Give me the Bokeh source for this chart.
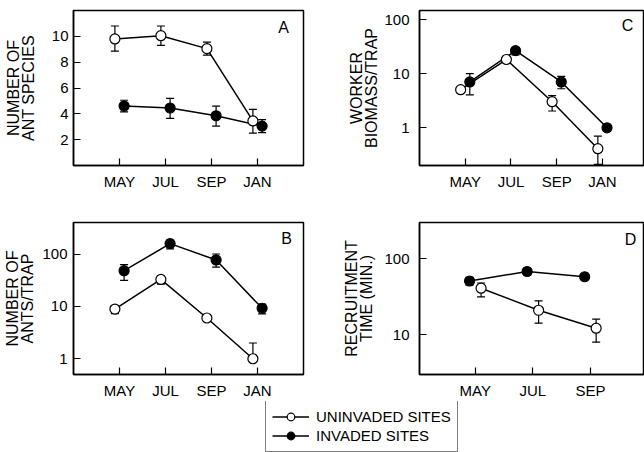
from bokeh.plotting import figure
from bokeh.models import (ColumnDataSource, Whisker, TeeHead, FixedTicker, NumeralTickFormatter,
                          Label, Legend, LegendItem, Range1d)
from bokeh.layouts import column, row
from bokeh.embed import file_html
from bokeh.resources import INLINE

FONT = "Liberation Sans"

# ---------------- data ----------------
months = ["MAY", "JUL", "SEP", "JAN"]
months_d = ["MAY", "JUL", "SEP"]

# Panel A: number of ant species
a_unin = [9.8, 10.05, 9.05, 3.45]
a_unin_lo = [8.85, 9.3, 8.55, 2.5]
a_unin_hi = [10.8, 10.8, 9.55, 4.35]
a_inv = [4.6, 4.45, 3.85, 3.05]
a_inv_lo = [4.15, 3.65, 3.05, 2.55]
a_inv_hi = [5.05, 5.2, 4.6, 3.55]

# Panel C: worker biomass / trap
c_unin = [5.1, 18.5, 3.05, 0.41]
c_unin_lo = [4.6, 16.5, 2.05, 0.21]
c_unin_hi = [5.6, 20.5, 3.95, 0.70]
c_inv = [7.1, 27.0, 7.1, 1.0]
c_inv_lo = [4.1, 22.5, 5.3, 0.93]
c_inv_hi = [10.1, 30.5, 9.0, 1.07]

# Panel B: number of ants / trap
b_unin = [8.9, 32.7, 6.0, 1.0]
b_unin_lo = [7.3, 26.5, 5.6, 1.0]
b_unin_hi = [10.3, 38.0, 6.4, 2.0]
b_inv = [48.0, 158.0, 77.0, 9.2]
b_inv_lo = [31.5, 125.0, 56.0, 7.2]
b_inv_hi = [63.0, 184.0, 100.0, 11.0]

# Panel D: recruitment time (min.)
d_unin = [41.0, 21.0, 12.2]
d_unin_lo = [31.5, 14.2, 8.0]
d_unin_hi = [48.0, 28.0, 16.1]
d_inv = [51.0, 68.0, 58.0]
d_inv_lo = [45.0, 61.0, 55.0]
d_inv_hi = [57.0, 75.0, 61.0]

OFF = 0.1  # horizontal dodge of the two series


def make_fig(w, h, ylog, xr, yr, bl, br, bt, bb):
    p = figure(width=w, height=h, x_range=Range1d(*xr), y_range=Range1d(*yr),
               y_axis_type="log" if ylog else "linear",
               output_backend="svg", toolbar_location=None,
               min_border_left=bl, min_border_right=br,
               min_border_top=bt, min_border_bottom=bb)
    p.grid.visible = False
    p.outline_line_color = "black"
    p.outline_line_width = 1.5
    p.outline_line_alpha = 1
    p.background_fill_color = "white"
    p.border_fill_color = "white"
    for ax in p.axis:
        ax.axis_line_color = "black"
        ax.axis_line_width = 1.5
        ax.major_tick_in = 7
        ax.major_tick_out = 0
        ax.minor_tick_in = 0
        ax.minor_tick_out = 0
        ax.major_tick_line_width = 1.2
        ax.major_tick_line_color = "black"
        ax.major_label_text_font = FONT
        ax.major_label_text_font_size = "15px"
        ax.major_label_text_color = "black"
        ax.axis_label_text_font = FONT
        ax.axis_label_text_font_size = "16px"
        ax.axis_label_text_font_style = "normal"
        ax.axis_label_text_color = "black"
    return p


def set_x(p, labels):
    p.xaxis.ticker = FixedTicker(ticks=[i + 1 for i in range(len(labels))])
    p.xaxis.major_label_overrides = {i + 1: m for i, m in enumerate(labels)}
    p.xaxis.major_label_standoff = 7


def set_y(p, ticks, label, tick_std, lab_std):
    p.yaxis.ticker = FixedTicker(ticks=ticks)
    p.yaxis.formatter = NumeralTickFormatter(format="0")
    p.yaxis.axis_label = label
    p.yaxis.axis_label_text_line_height = 0.9
    p.yaxis.major_label_standoff = tick_std
    p.yaxis.axis_label_standoff = lab_std


def series(p, labels, vals, lo, hi, off):
    xs = [i + 1 + off for i in range(len(labels))]
    src = ColumnDataSource(dict(x=xs, y=vals, lo=lo, hi=hi))
    p.add_layout(Whisker(source=src, base="x", upper="hi", lower="lo",
                         line_color="black", line_width=1.2,
                         upper_head=TeeHead(size=8, line_color="black", line_width=1.2),
                         lower_head=TeeHead(size=8, line_color="black", line_width=1.2)))
    p.line("x", "y", source=src, line_color="black", line_width=1.5)
    return src


def markers(p, src_open, src_fill):
    p.scatter("x", "y", source=src_open, marker="circle", size=10,
              fill_color="white", line_color="black", line_width=1.2)
    p.scatter("x", "y", source=src_fill, marker="circle", size=10,
              fill_color="black", line_color="black", line_width=1.2)


def letter(p, txt, x, y):
    p.add_layout(Label(x=x, y=y, x_units="screen", y_units="screen", text=txt,
                       text_font=FONT, text_font_size="16px", text_color="black",
                       text_align="center", text_baseline="middle"))


# ---------------- Panel A ----------------
pA = make_fig(330, 210, False, (0, 5), (0, 12), 73, 27, 10, 45)
set_x(pA, months)
set_y(pA, [2, 4, 6, 8, 10], "NUMBER OF\nANT SPECIES", 5, 12)
sa1 = series(pA, months, a_unin, a_unin_lo, a_unin_hi, -OFF)
sa2 = series(pA, months, a_inv, a_inv_lo, a_inv_hi, OFF)
markers(pA, sa1, sa2)
letter(pA, "A", 210, 138)

# ---------------- Panel C ----------------
pC = make_fig(314, 210, True, (0, 4.92), (0.2, 150), 89, 0, 10, 45)
set_x(pC, months)
set_y(pC, [1, 10, 100], "WORKER\nBIOMASS/TRAP", 10, 1)
sc1 = series(pC, months, c_unin, c_unin_lo, c_unin_hi, -OFF)
sc2 = series(pC, months, c_inv, c_inv_lo, c_inv_hi, OFF)
markers(pC, sc1, sc2)
letter(pC, "C", 208, 140)

# ---------------- Panel B ----------------
pB = make_fig(330, 191, True, (0, 5), (0.5, 400), 73, 27, 12, 25)
set_x(pB, months)
set_y(pB, [1, 10, 100], "NUMBER OF\nANTS/TRAP", 6, 3)
sb1 = series(pB, months, b_unin, b_unin_lo, b_unin_hi, -OFF)
sb2 = series(pB, months, b_inv, b_inv_lo, b_inv_hi, OFF)
markers(pB, sb1, sb2)
letter(pB, "B", 213, 136)

# ---------------- Panel D ----------------
pD = make_fig(314, 191, True, (0.03, 3.94), (3, 300), 89, 0, 12, 25)
set_x(pD, months_d)
set_y(pD, [10, 100], "RECRUITMENT\nTIME (MIN.)", 10, 6)
sd1 = series(pD, months_d, d_unin, d_unin_lo, d_unin_hi, OFF)
sd2 = series(pD, months_d, d_inv, d_inv_lo, d_inv_hi, -OFF)
markers(pD, sd1, sd2)
letter(pD, "D", 211, 135)

# ---------------- Legend ----------------
pL = figure(width=644, height=51, x_range=Range1d(0, 1), y_range=Range1d(0, 1),
            output_backend="svg", toolbar_location=None, min_border=0,
            x_axis_location=None, y_axis_location=None)
pL.outline_line_color = None
pL.grid.visible = False
key_src = ColumnDataSource(dict(x=[5.0], y=[5.0]))  # outside the visible range: key only
l1 = pL.line("x", "y", source=key_src, line_color="black", line_width=1.5)
m1 = pL.scatter("x", "y", source=key_src, marker="circle", size=10,
                fill_color="white", line_color="black", line_width=1.2)
l2 = pL.line("x", "y", source=key_src, line_color="black", line_width=1.5)
m2 = pL.scatter("x", "y", source=key_src, marker="circle", size=10,
                fill_color="black", line_color="black", line_width=1.2)
legend = Legend(items=[LegendItem(label="UNINVADED SITES", renderers=[l1, m1]),
                       LegendItem(label="INVADED SITES", renderers=[l2, m2])],
                location=(265, 0), padding=6, spacing=0, margin=0,
                label_height=19, glyph_height=19, glyph_width=37, label_standoff=7,
                border_line_color="black", border_line_width=1,
                background_fill_color="white", background_fill_alpha=1,
                label_text_font=FONT, label_text_font_size="15px",
                label_text_color="black")
pL.add_layout(legend)

layout = column(row(pA, pC), row(pB, pD), pL)

open("out.html", "w").write(file_html(layout, INLINE))
